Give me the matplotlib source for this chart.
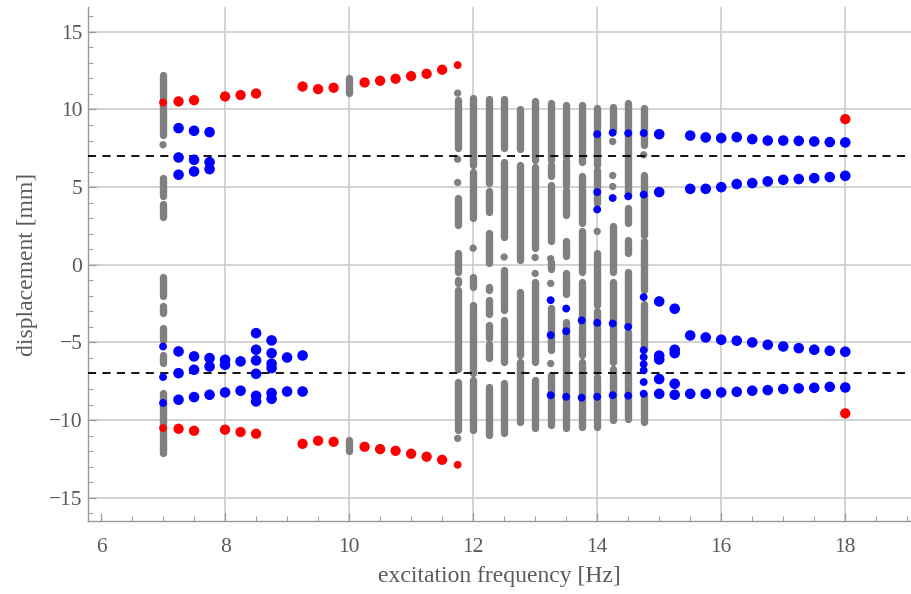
import matplotlib
matplotlib.use("Agg")
import matplotlib.pyplot as plt
from matplotlib.ticker import MultipleLocator

# ---- data (frequency in Hz, displacement in mm) ----
red_up_f = [7, 7.25, 7.5, 8, 8.25, 8.5, 9.25, 9.5, 9.75, 10.25, 10.5, 10.75, 11, 11.25, 11.5, 11.75, 18]
red_up_y = [10.45, 10.52, 10.6, 10.84, 10.93, 11.03, 11.48, 11.31, 11.4, 11.74, 11.85, 11.98, 12.15, 12.3, 12.56, 12.86, 9.38]
red_lo_f = [7, 7.25, 7.5, 8, 8.25, 8.5, 9.25, 9.5, 9.75, 10.25, 10.5, 10.75, 11, 11.25, 11.5, 11.75, 18]
red_lo_y = [-10.52, -10.56, -10.69, -10.62, -10.77, -10.88, -11.53, -11.33, -11.4, -11.72, -11.87, -11.98, -12.17, -12.36, -12.56, -12.88, -9.57]
red_small = [7, 11.75]

# large blue dots
blue_f = [7.25, 7.25, 7.25, 7.5, 7.5, 7.5, 7.75, 7.75, 7.75,
          7.25, 7.25, 7.25, 7.5, 7.5, 7.5, 7.75, 7.75, 7.75, 8, 8, 8, 8.25, 8.25,
          8.5, 8.5, 8.5, 8.5, 8.5, 8.5, 8.75, 8.75, 8.75, 8.75, 8.75, 8.75, 9, 9, 9.25, 9.25,
          15, 15, 15, 15, 15, 15, 15, 15.25, 15.25, 15.25, 15.25, 15.25,
          15.5, 15.5, 15.5, 15.5, 15.75, 15.75, 15.75, 15.75, 16, 16, 16, 16,
          16.25, 16.25, 16.25, 16.25, 16.5, 16.5, 16.5, 16.5, 16.75, 16.75, 16.75, 16.75,
          17, 17, 17, 17, 17.25, 17.25, 17.25, 17.25, 17.5, 17.5, 17.5, 17.5,
          17.75, 17.75, 17.75, 17.75, 18, 18, 18, 18]
blue_y = [8.8, 6.91, 5.8, 8.63, 6.76, 6.01, 8.54, 6.61, 6.16,
          -5.58, -6.98, -8.69, -5.9, -6.76, -8.52, -6.01, -6.55, -8.37, -6.12, -6.44, -8.22, -6.22, -8.11,
          -4.4, -5.47, -6.16, -7.02, -8.44, -8.8, -4.87, -5.69, -6.37, -6.65, -8.26, -8.63, -5.97, -8.16, -5.84, -8.16,
          8.41, 4.68, -2.36, -5.85, -6.1, -7.36, -8.31, -2.83, -5.47, -5.69, -7.66, -8.37,
          8.32, 4.89, -4.55, -8.31, 8.2, 4.89, -4.68, -8.31, 8.16, 5.0, -4.83, -8.22,
          8.22, 5.2, -4.89, -8.18, 8.09, 5.26, -5.0, -8.11, 8.0, 5.37, -5.15, -8.07,
          8.0, 5.47, -5.26, -8.0, 7.98, 5.52, -5.37, -7.96, 7.94, 5.58, -5.47, -7.92,
          7.9, 5.65, -5.54, -7.86, 7.88, 5.73, -5.6, -7.9]

# small blue dots (sitting on the grey columns)
blue_s_f = [7, 7, 7, 13.25, 13.25, 13.25, 13.5, 13.5, 13.5, 13.75, 13.75,
            14, 14, 14, 14, 14, 14.25, 14.25, 14.25, 14.25, 14.5, 14.5, 14.5, 14.5,
            14.75, 14.75, 14.75, 14.75, 14.75, 14.75, 14.75, 14.75, 14.75]
blue_s_y = [-5.26, -7.23, -8.9, -2.28, -4.53, -8.4, -2.82, -4.28, -8.5, -3.58, -8.56,
            8.41, 4.68, 3.56, -3.74, -8.5, 8.5, 4.3, -3.78, -8.4, 8.47, 4.41, -4.0, -8.43,
            8.48, 4.52, -2.08, -5.5, -5.95, -6.4, -6.8, -7.55, -8.3]

# grey (chaotic) samples: dense runs (freq, top, bottom) and isolated points
gray_runs = [
    (7, 12.23, 8.37), (7, 5.58, 4.4), (7, 3.9, 3.05), (7, -0.8, -2.0), (7, -2.68, -3.11),
    (7, -4.08, -4.83), (7, -5.8, -6.33), (7, -8.26, -12.13),
    (10, 12.0, 11.05), (10, -11.27, -12.0),
    (11.75, 10.62, 7.51), (11.75, 4.3, 2.58), (11.75, 0.75, -0.45), (11.75, -0.99, -1.2),
    (11.75, -1.63, -6.68), (11.75, -7.53, -10.65),
    (12, 10.77, 6.44), (12, 5.97, 3.0), (12, -0.77, -1.42), (12, -2.6, -7.0), (12, -7.4, -10.65),
    (12.25, 10.69, 5.26), (12.25, 4.77, 3.43), (12.25, 2.04, 0.1), (12.25, -1.42, -1.63),
    (12.25, -2.28, -3.14), (12.25, -3.88, -4.74), (12.25, -5.07, -6.03), (12.25, -7.85, -10.97),
    (12.5, 10.69, 7.51), (12.5, 6.6, 1.8), (12.5, -0.32, -2.92), (12.5, -3.56, -6.25), (12.5, -7.64, -10.86),
    (12.75, 10.05, 7.47), (12.75, 6.4, 0.32), (12.75, -1.74, -5.8), (12.75, -6.25, -10.11),
    (13, 10.52, 6.76), (13, 6.31, 1.07), (13, -1.09, -6.25), (13, -7.4, -10.54),
    (13.25, 10.44, 6.76), (13.25, 6.44, 5.7), (13.25, 5.15, 1.51), (13.25, 0.19, -0.24),
    (13.25, -2.8, -5.5), (13.25, -7.1, -10.3),
    (13.5, 10.3, 6.97), (13.5, 6.7, 5.15), (13.5, 4.83, 3.22), (13.5, 1.5, 0.54),
    (13.5, -0.56, -1.85), (13.5, -3.67, -10.54),
    (13.75, 10.3, 6.65), (13.75, 5.7, 2.7), (13.75, 2.2, -0.45), (13.75, -1.09, -5.8), (13.75, -6.25, -10.43),
    (14, 10.09, 6.44), (14, 6.1, 4.0), (14, 0.75, -2.6), (14, -3.0, -6.9), (14, -7.2, -10.43),
    (14.25, 10.19, 8.69), (14.25, 2.47, -0.45), (14.25, -1.09, -6.25), (14.25, -6.7, -10.0),
    (14.5, 10.43, 4.4), (14.5, 3.67, 2.7), (14.5, 1.6, 0.77), (14.5, -0.45, -3.88),
    (14.5, -4.3, -6.7), (14.5, -7.0, -9.9),
    (14.75, 10.1, 7.73), (14.75, 5.8, 1.93), (14.75, 1.5, -1.6), (14.75, -2.5, -5.4), (14.75, -8.4, -10.1),
]
gray_pt_f = [7, 11.75, 11.75, 11.75, 11.75, 12, 12.5, 13, 13, 13.25, 13.25, 13.25, 14, 14.25, 14.25, 14.25, 14.75]
gray_pt_y = [7.73, 11.05, 6.8, 5.3, -11.18, 1.07, 0.5, 0.47, -0.56, 0.39, -1.2, -6.36, 2.15, 7.94, 5.75, 5.04, 7.08]

GRAY, BLUE, RED = "#808080", "#0000ff", "#ff0000"
TXT = "#5a5a5a"
plt.rcParams["font.family"] = ["Liberation Serif", "DejaVu Serif"]

fig = plt.figure(figsize=(9.11, 5.94), dpi=100)
ax = fig.add_axes([88 / 911, 73 / 594, 823 / 911, 514 / 594])
ax.set_xlim(5.79, 19.06)
ax.set_ylim(-16.5, 16.6)

for x in [8, 10, 12, 14, 16, 18]:
    ax.axvline(x, color="#cccccc", lw=1.2, zorder=0)
for y in [-15, -10, -5, 0, 5, 10, 15]:
    ax.axhline(y, color="#cccccc", lw=1.2, zorder=0)

# grey runs drawn as thick round-capped strokes (dense stacks of dots)
for f, top, bot in gray_runs:
    ax.plot([f, f], [top, bot], color=GRAY, lw=5.3, solid_capstyle="round", zorder=2)
ax.scatter(gray_pt_f, gray_pt_y, s=28, color=GRAY, edgecolors="none", zorder=2)

ax.axhline(7, color="black", lw=1.3, ls=(0, (4.5, 3.5)), zorder=3)
ax.axhline(-7, color="black", lw=1.3, ls=(0, (4.5, 3.5)), zorder=3)

ax.scatter(blue_f, blue_y, s=58, color=BLUE, edgecolors="none", zorder=4)
ax.scatter(blue_s_f, blue_s_y, s=32, color=BLUE, edgecolors="none", zorder=4)

sizes_up = [32 if f in red_small else 55 for f in red_up_f]
sizes_lo = [32 if f in red_small else 55 for f in red_lo_f]
ax.scatter(red_up_f, red_up_y, s=sizes_up, color=RED, edgecolors="none", zorder=5)
ax.scatter(red_lo_f, red_lo_y, s=sizes_lo, color=RED, edgecolors="none", zorder=5)

ax.xaxis.set_major_locator(MultipleLocator(2))
ax.xaxis.set_minor_locator(MultipleLocator(0.5))
ax.yaxis.set_major_locator(MultipleLocator(5))
ax.yaxis.set_minor_locator(MultipleLocator(1))
ax.tick_params(which="both", direction="in", colors="#9a9a9a", labelcolor=TXT, labelsize=15.5)
ax.tick_params(which="major", length=6, width=0.9)
ax.tick_params(which="minor", length=3.5, width=0.7)
ax.tick_params(axis="x", which="major", pad=12)
ax.tick_params(axis="y", which="major", pad=4)
for side in ["top", "right"]:
    ax.spines[side].set_visible(False)
for side in ["left", "bottom"]:
    ax.spines[side].set_color("#9a9a9a")
    ax.spines[side].set_linewidth(1.0)

ax.set_xticks([6, 8, 10, 12, 14, 16, 18])
ax.set_yticks([-15, -10, -5, 0, 5, 10, 15])
ax.set_yticklabels(["\u221215", "\u221210", "\u22125", "0", "5", "10", "15"])
ax.set_xlabel("excitation frequency [Hz]", fontsize=17, color=TXT, labelpad=7)
ax.set_ylabel("displacement [mm]", fontsize=17, color=TXT, labelpad=8)

fig.savefig("out.png", dpi=100)
